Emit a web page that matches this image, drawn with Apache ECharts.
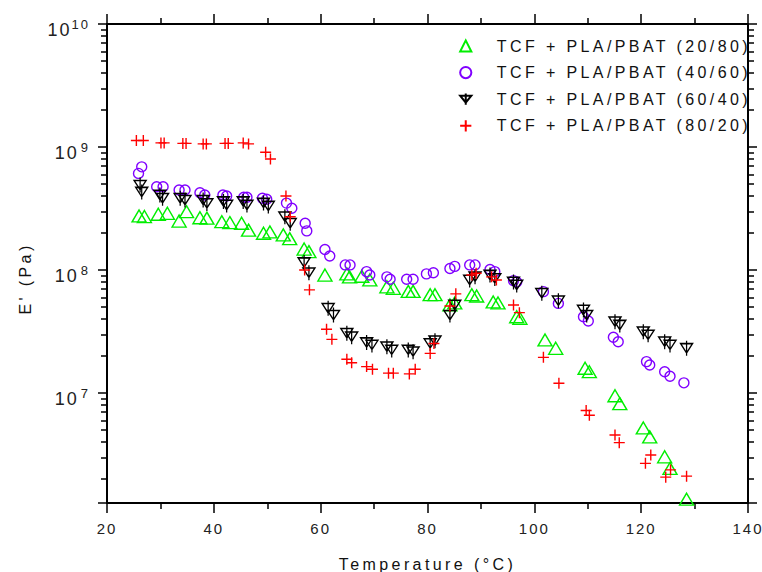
<!DOCTYPE html>
<html><head><meta charset="utf-8">
<script src="https://cdn.jsdelivr.net/npm/echarts@6/dist/echarts.min.js"></script>
<style>
html,body{margin:0;}
#chart{width:762px;height:572px;}
#chart text{letter-spacing:2px;}
#chart text[style*="16px"]{letter-spacing:3.4px;}
</style></head><body><div id="chart"></div>
<script>
const seriesNames = ['TCF + PLA/PBAT (20/80)', 'TCF + PLA/PBAT (40/60)', 'TCF + PLA/PBAT (60/40)', 'TCF + PLA/PBAT (80/20)'];

const t2080 = [26.0,27.0,29.6,31.3,33.5,34.9,37.4,38.7,41.5,43.0,45.2,46.5,49.3,50.5,53.0,54.2,56.9,57.8,60.8,64.9,65.4,67.7,69.2,72.4,73.6,76.4,77.3,80.5,81.4,84.2,85.1,88.3,89.2,92.3,93.2,96.7,97.3,102.0,104.0,109.5,110.3,115.1,116.0,120.4,121.6,124.4,125.4,128.5];
const e2080 = [2.75e8,2.72e8,2.84e8,2.89e8,2.5e8,2.98e8,2.66e8,2.64e8,2.47e8,2.43e8,2.4e8,2.11e8,1.99e8,2.04e8,1.93e8,1.8e8,1.48e8,1.41e8,9.1e7,9.3e7,8.8e7,8.9e7,8.3e7,7.3e7,7.1e7,6.7e7,6.7e7,6.3e7,6.3e7,5.2e7,5.4e7,6.3e7,6.15e7,5.5e7,5.4e7,4.17e7,4.05e7,2.7e7,2.31e7,1.59e7,1.49e7,9.5e6,8.2e6,5.2e6,4.4e6,3.03e6,2.44e6,1.37e6];

const t4060 = [25.9,26.5,29.3,30.5,33.5,34.6,37.4,38.3,41.7,42.4,45.6,46.2,49.1,49.9,53.6,54.6,57.1,57.4,60.8,61.7,64.6,65.5,68.6,69.2,72.4,73.0,76.1,77.3,79.8,81.1,84.2,85.1,87.9,88.9,91.7,92.6,96.1,96.7,101.7,104.5,109.2,110.1,114.8,115.7,121.0,121.6,124.4,125.4,128.0];
const e4060 = [6.1e8,6.9e8,4.75e8,4.75e8,4.47e8,4.47e8,4.25e8,4.07e8,4.07e8,4.0e8,3.9e8,3.9e8,3.83e8,3.76e8,3.5e8,3.18e8,2.4e8,2.08e8,1.47e8,1.3e8,1.1e8,1.1e8,9.7e7,9.1e7,8.8e7,8.4e7,8.4e7,8.4e7,9.3e7,9.5e7,1.03e8,1.07e8,1.1e8,1.1e8,1.01e8,9.7e7,8.2e7,8.0e7,6.67e7,5.35e7,4.17e7,3.85e7,2.84e7,2.61e7,1.8e7,1.69e7,1.49e7,1.37e7,1.21e7];

const t6040 = [26.2,26.5,29.9,30.4,33.7,34.6,38.0,38.7,41.8,42.4,45.5,46.2,49.3,50.2,53.3,54.3,56.9,57.8,61.4,62.4,64.9,65.8,68.6,69.6,72.4,73.3,76.4,77.3,80.5,81.4,84.2,85.1,87.9,88.9,91.7,92.6,96.1,96.7,101.4,104.5,109.2,109.8,115.1,116.0,120.4,121.3,124.4,125.4,128.5];
const e6040 = [4.9e8,4.3e8,4.07e8,3.83e8,3.83e8,3.7e8,3.7e8,3.48e8,3.6e8,3.38e8,3.6e8,3.38e8,3.5e8,3.31e8,2.71e8,2.4e8,1.15e8,9.5e7,4.89e7,4.3e7,3.06e7,2.87e7,2.57e7,2.46e7,2.38e7,2.24e7,2.24e7,2.17e7,2.53e7,2.66e7,4.3e7,5.2e7,8.3e7,8.8e7,9.1e7,8.55e7,8.0e7,7.55e7,6.47e7,5.63e7,4.73e7,4.3e7,3.8e7,3.57e7,3.15e7,2.97e7,2.61e7,2.46e7,2.31e7];

const t8020 = [25.5,26.8,30.1,30.7,34.2,34.8,38.0,38.6,42.1,42.7,45.5,46.5,49.7,50.6,53.5,54.3,57.0,57.9,61.1,62.1,64.9,65.8,68.6,69.7,72.7,73.6,76.6,77.7,80.5,81.2,84.2,85.3,88.3,89.1,92.0,92.9,96.1,97.2,101.7,104.6,109.7,110.3,115.1,115.9,120.8,121.8,124.6,125.5,128.5];
const e8020 = [1.13e9,1.13e9,1.08e9,1.08e9,1.07e9,1.07e9,1.06e9,1.06e9,1.07e9,1.07e9,1.08e9,1.06e9,9.06e8,7.98e8,4.0e8,2.71e8,1.0e8,6.9e7,3.3e7,2.73e7,1.88e7,1.76e7,1.64e7,1.56e7,1.45e7,1.45e7,1.43e7,1.56e7,2.1e7,2.53e7,5.1e7,6.4e7,9.1e7,9.4e7,8.8e7,8.3e7,5.2e7,4.5e7,1.95e7,1.2e7,7.2e6,6.6e6,4.56e6,3.95e6,2.68e6,3.13e6,2.07e6,2.37e6,2.11e6];

const xTicks = [20, 40, 60, 80, 100, 120, 140];
const yMajorTicks = [1e7, 1e8, 1e9, 1e10];
const Y_MIN = 1.276e6, Y_MAX = 1e10;

const zip = (xs, ys) => xs.map((x, i) => [x, ys[i]]);

const chart = echarts.init(document.getElementById('chart'), null, { renderer: 'svg' });

const P_TRI = 'path://M6,0 L12,11 L0,11 Z';
const P_CIR = 'path://M0,5 A5,5 0 1,0 10,5 A5,5 0 1,0 0,5 Z';
const P_DTRI = 'path://M0,3 L12,3 L6,13 Z M6,0 L6,16';
const P_PLUS = 'path://M5,0 L5,10 M0,5 L10,5';

function mkSeries(name, xs, ys, symbol, size, color) {
  return {
    name: name, type: 'line', data: zip(xs, ys),
    symbol: symbol, symbolSize: size,
    color: color,
    lineStyle: { width: 0, opacity: 0 },
    itemStyle: { color: 'rgba(255,255,255,0)', borderColor: color, borderWidth: 1.4 },
    emphasis: { disabled: true }
  };
}

function tickStyle() { return { color: '#000', width: 1.5 }; }
function axisLineStyle() { return { show: true, lineStyle: { color: '#000', width: 2 } }; }
function logAxis(pos, withLabels) {
  const ax = { type: 'log', min: Y_MIN, max: Y_MAX, position: pos, axisLine: axisLineStyle(),
    axisTick: { show: true, length: 9, lineStyle: tickStyle() },
    minorTick: { show: true, splitNumber: 9, length: 6, lineStyle: tickStyle() },
    splitLine: { show: false }, axisLabel: { show: false } };
  if (withLabels) {
    ax.axisLabel = { show: true, margin: 17, customValues: yMajorTicks, padding: [12, 0, 0, 0],
      formatter: function (v) { return '{b|10}{s|' + Math.round(Math.log10(v)) + '}'; },
      rich: { b: { fontSize: 18, color: '#222' }, s: { fontSize: 13, color: '#222', padding: [0, 0, 12, 4] } } };
    ax.name = "E' (Pa)"; ax.nameLocation = 'middle'; ax.nameGap = 74; ax.nameRotate = 90;
    ax.nameTextStyle = { fontSize: 16, color: '#111', padding: [0, 30, 0, 0] };
  }
  return ax;
}
function xAxisDef(pos) {
  const ax = { type: 'value', position: pos, min: 20, max: 140, interval: 20, axisLine: axisLineStyle(),
    axisTick: { show: true, length: 10, lineStyle: tickStyle() },
    minorTick: { show: true, splitNumber: 2, length: 6, lineStyle: tickStyle() },
    splitLine: { show: false }, axisLabel: { show: false } };
  if (pos === 'bottom') {
    ax.axisLabel = { show: true, margin: 18, fontSize: 15, color: '#222', customValues: xTicks };
    ax.name = 'Temperature (°C)'; ax.nameLocation = 'middle'; ax.nameGap = 53;
    ax.nameTextStyle = { fontSize: 16, color: '#111' };
  }
  return ax;
}

const option = {
  animation: false,
  title: { show: false, text: '' },
  grid: { left: 107, right: 14, top: 24, bottom: 69, outerBoundsMode: 'none' },
  legend: {
    orient: 'vertical', left: 434, top: 33,
    itemWidth: 52, itemHeight: 14, itemGap: 10.6,
    data: seriesNames,
    textStyle: { fontSize: 16, color: '#111' },
    itemStyle: { color: '#fff' },
    lineStyle: { width: 1.5, opacity: 1 }
  },
  xAxis: [ xAxisDef('bottom'), xAxisDef('top') ],
  yAxis: [ logAxis('left', true), logAxis('right', false) ],
  series: [
    mkSeries(seriesNames[0], t2080, e2080, P_TRI, [14, 12], '#00ee00'),
    mkSeries(seriesNames[1], t4060, e4060, P_CIR, 10, '#8000ff'),
    mkSeries(seriesNames[2], t6040, e6040, P_DTRI, [12, 15], '#000'),
    mkSeries(seriesNames[3], t8020, e8020, P_PLUS, 11, '#ff0000')
  ]
};
chart.setOption(option);
</script></body></html>
